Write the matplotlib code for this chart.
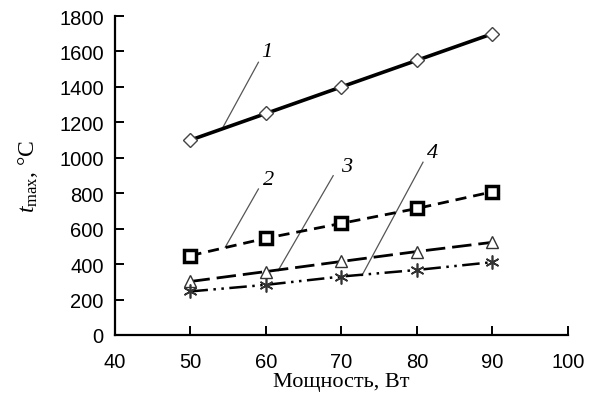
import matplotlib
matplotlib.use('Agg')
import matplotlib.pyplot as plt

plt.rcParams['mathtext.fontset'] = 'custom'
plt.rcParams['mathtext.rm'] = 'Liberation Serif'
plt.rcParams['mathtext.it'] = 'Liberation Serif:italic'

# data
Power = [50, 60, 70, 80, 90]
Curve1 = [1100, 1250, 1400, 1550, 1700]
Curve2 = [448, 546, 630, 714, 808]
Curve3 = [302, 358, 415, 471, 523]
Curve4 = [246, 283, 330, 367, 411]
CurveNames = ['1', '2', '3', '4']
XTicks = [40, 50, 60, 70, 80, 90, 100]
YTicks = [0, 200, 400, 600, 800, 1000, 1200, 1400, 1600, 1800]

# leader lines: (start x, start y, end x, end y, label x, label y)
Leaders = [
    (54.3, 1172, 59.0, 1539, 60.1, 1597),
    (54.6, 495, 59.0, 824, 60.3, 875),
    (61.6, 363, 68.9, 899, 70.7, 948),
    (72.7, 335, 80.8, 975, 82.0, 1030),
]

Fig = plt.figure(figsize=(5.97, 4.02), dpi=100)
Ax = Fig.add_axes([0.1926, 0.1642, 0.7588, 0.7935])

Ax.plot(Power, Curve1, color='black', lw=2.6, marker='D', ms=7.5,
        mfc='white', mec='#444444', mew=1.0, zorder=3)
Ax.plot(Power, Curve2, color='black', lw=2.0, dashes=(4, 2.5), marker='s', ms=8.5,
        mfc='white', mec='black', mew=2.5, zorder=3)
Ax.plot(Power, Curve3, color='black', lw=2.0, dashes=(7, 2.5), marker='^', ms=9,
        mfc='white', mec='#333333', mew=1.0, zorder=3)
Ax.plot(Power, Curve4, color='black', lw=1.8, dashes=(7, 2.2, 1, 2.2, 1, 2.2),
        marker=(6, 2, 0), ms=10, mec='#333333', mew=1.2, zorder=3)

for (X0, Y0, X1, Y1, Lx, Ly), Name in zip(Leaders, CurveNames):
    Ax.plot([X0, X1], [Y0, Y1], color='#555555', lw=0.9, zorder=2)
    Ax.text(Lx, Ly, Name, fontsize=16, fontstyle='italic', family='Liberation Serif',
            ha='center', va='center')

Ax.set_xlim(40, 100)
Ax.set_ylim(0, 1800)
Ax.set_xticks(XTicks)
Ax.set_yticks(YTicks)
Ax.spines['top'].set_visible(False)
Ax.spines['right'].set_visible(False)
Ax.spines['left'].set_linewidth(1.6)
Ax.spines['bottom'].set_linewidth(1.6)
Ax.tick_params(direction='in', length=6.5, width=1.4, labelsize=14.5, pad=8)
Ax.tick_params(axis='x', pad=12)
for Lab in Ax.get_xticklabels() + Ax.get_yticklabels():
    Lab.set_family('Liberation Sans')

Ax.set_xlabel('Мощность, Вт', family='Liberation Serif', fontsize=16, labelpad=1)
Ax.set_ylabel(r'$t_{\mathrm{max}}$, °C', family='Liberation Serif', fontsize=17, labelpad=14)

Fig.savefig('out.png', dpi=100)
